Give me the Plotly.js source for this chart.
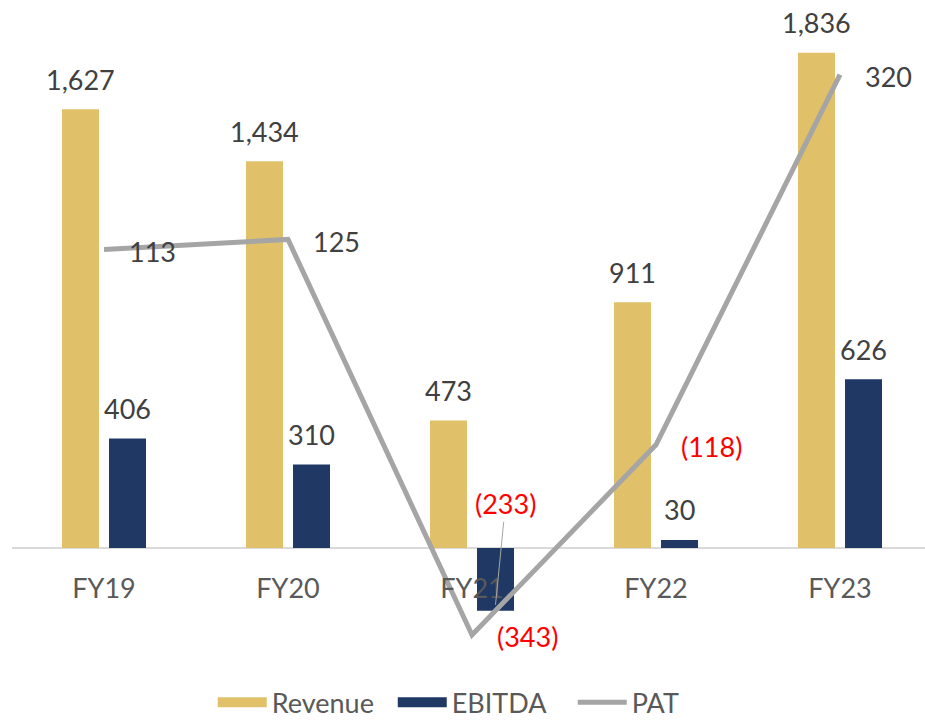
<!DOCTYPE html>
<html>
<head>
<meta charset="utf-8">
<script src="https://cdn.plot.ly/plotly-3.0.1.min.js"></script>
<style>html,body{margin:0;padding:0;background:#fff;}#chart{width:925px;height:720px;}</style>
</head>
<body>
<div id="chart"></div>
<script>
const categories = ['FY19', 'FY20', 'FY21', 'FY22', 'FY23'];
const revenue = [1627, 1434, 473, 911, 1836];
const ebitda = [406, 310, -233, 30, 626];
const pat = [113, 125, -343, -118, 320];

const GOLD = '#E0C068';
const NAVY = '#1F3864';
const GRAY = '#A5A5A5';
const TXT = '#404040';
const RED = '#FF0000';
const FONT = 'Lato, "Open Sans", sans-serif';

function fmt(v) {
  const s = Math.abs(v).toLocaleString('en-US');
  return v < 0 ? '(' + s + ')' : s;
}

const traces = [
  {type: 'bar', name: 'Revenue', x: categories, y: revenue, marker: {color: GOLD}, showlegend: false, hoverinfo: 'x+y'},
  {type: 'bar', name: 'EBITDA', x: categories, y: ebitda, marker: {color: NAVY}, showlegend: false, hoverinfo: 'x+y'},
  {type: 'scatter', mode: 'lines', name: 'Revenue', x: [null], y: [null], line: {color: GOLD, width: 18}, showlegend: true, hoverinfo: 'skip'},
  {type: 'scatter', mode: 'lines', name: 'EBITDA', x: [null], y: [null], line: {color: NAVY, width: 18}, showlegend: true, hoverinfo: 'skip'},
  {type: 'scatter', mode: 'lines', name: 'PAT', x: categories, y: pat, yaxis: 'y2', line: {color: GRAY, width: 5}, showlegend: true}
];

const annotations = [];
categories.forEach((c, i) => {
  annotations.push({x: c, y: revenue[i], xref: 'x', yref: 'y', text: fmt(revenue[i]), showarrow: false,
    xshift: -23.5, yshift: 30, yanchor: 'middle', font: {size: 27, color: revenue[i] < 0 ? RED : TXT, family: FONT}});
  if (ebitda[i] >= 0) {
    annotations.push({x: c, y: ebitda[i], xref: 'x', yref: 'y', text: fmt(ebitda[i]), showarrow: false,
      xshift: 23.5, yshift: 30, yanchor: 'middle', font: {size: 27, color: TXT, family: FONT}});
  } else {
    annotations.push({x: c, y: ebitda[i], xref: 'x', yref: 'y', text: fmt(ebitda[i]), showarrow: true,
      arrowhead: 0, arrowwidth: 1, arrowcolor: '#A6A6A6', ax: 10, ay: -101,
      xshift: 23.5, yshift: 6, font: {size: 27, color: RED, family: FONT}});
  }
  annotations.push({x: c, y: pat[i], xref: 'x', yref: 'y2', text: fmt(pat[i]), showarrow: false,
    xanchor: 'left', xshift: 23, yshift: -2, yanchor: 'middle', font: {size: 27, color: pat[i] < 0 ? RED : TXT, family: FONT}});
});

const layout = {
  width: 925, height: 720,
  margin: {l: 12, r: 0, t: 10, b: 60},
  paper_bgcolor: '#fff', plot_bgcolor: '#fff',
  font: {family: FONT, color: '#595959', size: 27},
  barmode: 'group', bargap: 0.489, bargroupgap: 0.213,
  xaxis: {type: 'category', categoryorder: 'array', categoryarray: categories,
    range: [-0.5, 4.462], anchor: 'free', position: 0.1723,
    showline: false, showgrid: false, zeroline: false,
    ticks: 'outside', ticklen: 17, tickcolor: 'rgba(0,0,0,0)',
    tickfont: {size: 27, color: '#595959', family: FONT}},
  yaxis: {range: [-415.3, 1994.8], showgrid: false, showticklabels: false, ticks: '',
    zeroline: true, zerolinecolor: '#D9D9D9', zerolinewidth: 2},
  yaxis2: {range: [-372.6, 396.5], overlaying: 'y', side: 'right', showgrid: false,
    showticklabels: false, ticks: '', zeroline: false},
  showlegend: true,
  legend: {orientation: 'h', xref: 'container', yref: 'container', x: 0.230, xanchor: 'left', y: 0.024, yanchor: 'middle',
    entrywidth: 116, entrywidthmode: 'pixels',
    itemwidth: 49, font: {size: 27, color: '#595959', family: FONT}, traceorder: 'normal'},
  annotations: annotations
};

Plotly.newPlot('chart', traces, layout, {displayModeBar: false, staticPlot: true});
</script>
</body>
</html>
